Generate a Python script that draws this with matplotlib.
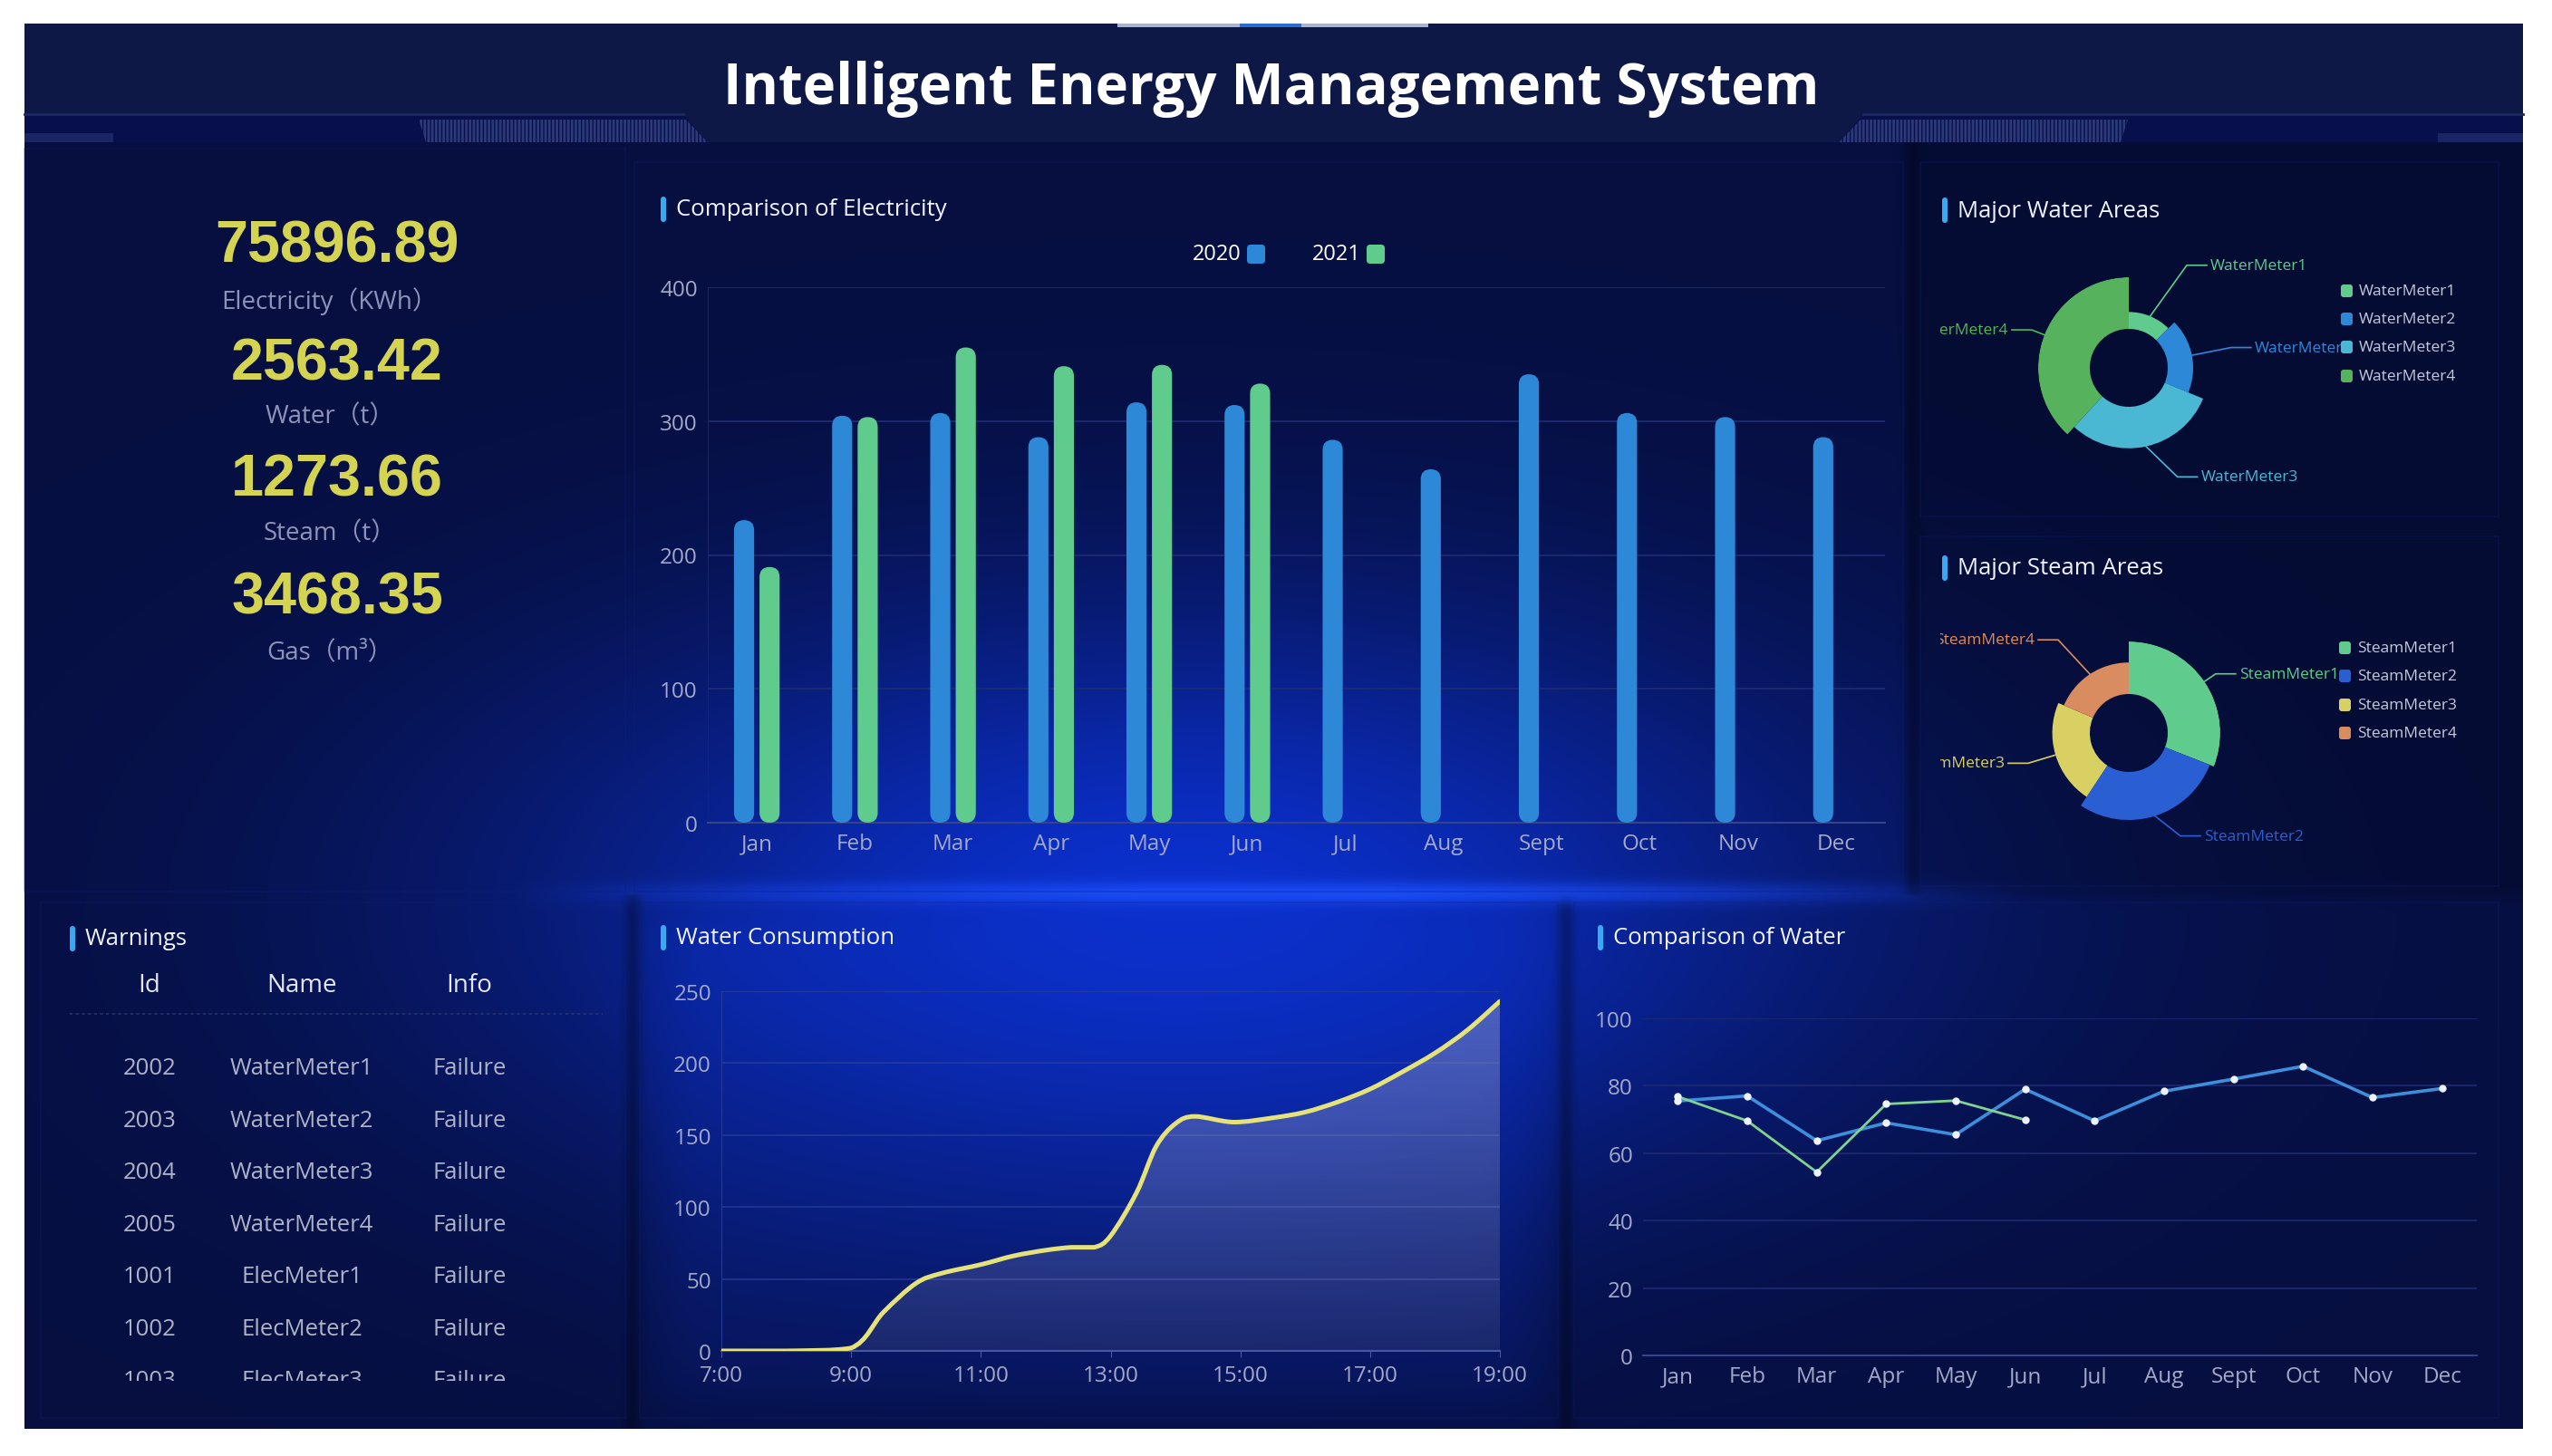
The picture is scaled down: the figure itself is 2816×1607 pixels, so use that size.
import numpy as np
import matplotlib
matplotlib.use('Agg')
import matplotlib.pyplot as plt
from matplotlib.patches import FancyBboxPatch, Rectangle, Polygon, PathPatch
from matplotlib.path import Path

plt.rcParams['font.family'] = ['Open Sans', 'Noto Sans CJK SC', 'DejaVu Sans']
plt.rcParams['hatch.linewidth'] = 2.0

# ---------------- data ----------------
months = ['Jan', 'Feb', 'Mar', 'Apr', 'May', 'Jun', 'Jul', 'Aug', 'Sept', 'Oct', 'Nov', 'Dec']
elec_2020 = [226, 304, 306, 288, 314, 312, 286, 264, 335, 306, 303, 288]
elec_2021 = [191, 303, 355, 341, 342, 328]

kpi_values = ['75896.89', '2563.42', '1273.66', '3468.35']
kpi_labels = ['Electricity（KWh）', 'Water（t）', 'Steam（t）', 'Gas（m³）']

water_meters = ['WaterMeter1', 'WaterMeter2', 'WaterMeter3', 'WaterMeter4']
water_share = [20, 30, 49, 61]
steam_meters = ['SteamMeter1', 'SteamMeter2', 'SteamMeter3', 'SteamMeter4']
steam_share = [35, 32, 25, 21]

warn_ids = ['2002', '2003', '2004', '2005', '1001', '1002', '1003']
warn_names = ['WaterMeter1', 'WaterMeter2', 'WaterMeter3', 'WaterMeter4',
              'ElecMeter1', 'ElecMeter2', 'ElecMeter3']
warn_info = ['Failure'] * 7

hours = [7.0, 8.0, 9.0, 9.5, 10.0, 10.4, 11.0, 11.5, 12.0, 12.4, 12.75, 13.0,
         13.4, 13.7, 14.0, 14.3, 14.9, 15.5, 16.0, 16.5, 17.0, 17.5, 18.0, 18.5, 19.0]
consumption = [0, 0, 2, 27, 47, 54, 60, 66, 70, 72, 72, 80,
               110, 142, 158, 163, 159, 162, 166, 173, 182, 194, 207, 223, 243]
hour_ticks = [7, 9, 11, 13, 15, 17, 19]
hour_labels = ['7:00', '9:00', '11:00', '13:00', '15:00', '17:00', '19:00']

water_2020 = [75.5, 77, 63.7, 69, 65.5, 79, 69.6, 78.4, 82, 85.8, 76.5, 79.2]
water_2021 = [76.8, 69.6, 54.4, 74.6, 75.6, 69.9]

# ---------------- colours ----------------
BLUE = '#2e88d8'
GREEN = '#5fcb8c'
water_colors = ['#5fcb8c', '#2e88d8', '#4bb8d3', '#56b25c']
steam_colors = ['#5fcb8c', '#2a5fd4', '#d8d062', '#d98c5f']
TICK = '#a3a9c9'
GRID = '#1e2b72'

W, H = 2816, 1608
fig = plt.figure(figsize=(W / 100, H / 100), dpi=100, facecolor='white')


def rect(x0, y0, x1, y1):
    # pixel box (top-left origin) -> figure fraction
    return [x0 / W, 1 - y1 / H, (x1 - x0) / W, (y1 - y0) / H]


def sig(v):
    return 1 / (1 + np.exp(-v))


# background axes in pixel coordinates
bg = fig.add_axes([0, 0, 1, 1])
bg.set_xlim(0, W)
bg.set_ylim(H, 0)
bg.axis('off')

Hs, Ws = 400, 700
yy, xx = np.mgrid[0:Hs, 0:Ws]
py = 27 + (yy + 0.5) * (1578 - 27) / Hs
px = 27 + (xx + 0.5) * (2784 - 27) / Ws
base = np.array([6, 15, 64]) / 255
glow = np.array([11, 48, 205]) / 255
g = np.exp(-((px - 1300) / 720) ** 2 - ((py - 1000) / 330) ** 2)
img = base + (glow - base) * g[..., None]
# water consumption panel: a bit brighter, soft edges
box = sig((px - 725) / 18) * sig((1700 - px) / 18) * sig((py - 1003) / 15) * sig((1560 - py) / 15)
t = np.clip((py - 997) / 569, 0, 1)
wgt = 0.45 * box * (1 - 0.7 * t)
img = img + (np.array([12, 48, 200]) / 255 - img) * wgt[..., None]
# darker gaps between panels
gap = np.zeros_like(px)
for gx in (698, 1728):
    gap += np.exp(-((px - gx) / 9) ** 2) * (py > 990)
gap += np.exp(-((px - 2110) / 9) ** 2) * (py < 990)
img *= (1 - 0.3 * np.clip(gap, 0, 1))[..., None]
band = np.exp(-((py - 987) / 12) ** 2) * np.clip(1.2 - np.abs(px - 1400) / 700, 0, 1)
band_col = np.array([25, 75, 245]) / 255
img = img + (band_col - img) * np.clip(band, 0, 1)[..., None]
right = sig((px - 2112) / 4) * sig((990 - py) / 4)
img *= (1 - 0.2 * right)[..., None]
bg.imshow(np.clip(img, 0, 1), extent=(27, 2784, 1578, 27), aspect='auto',
          interpolation='bilinear', zorder=0)

# panels
for x0, y0, x1, y1 in [(27, 165, 690, 985), (700, 180, 2100, 985),
                       (2119, 180, 2757, 571), (2119, 593, 2757, 979),
                       (45, 997, 690, 1566), (706, 997, 1719, 1566),
                       (1737, 997, 2757, 1566)]:
    bg.add_patch(Rectangle((x0, y0), x1 - x0, y1 - y0, fc='none', ec='#0f1f78',
                           lw=1.2, alpha=0.3, zorder=1))

# header
bg.add_patch(Rectangle((27, 27), 2757, 100, fc='#0e1846', ec='none', zorder=2))
bg.add_patch(Rectangle((27, 127), 2757, 31, fc='#07104a', ec='none', zorder=2))
bg.add_patch(Polygon([(754, 127), (2056, 127), (2029, 158), (781, 158)],
                     fc='#0e1846', ec='none', zorder=3))
bg.plot([27, 754], [127, 127], color='#1d2962', lw=2, zorder=3)
bg.plot([2056, 2784], [127, 127], color='#1d2962', lw=2, zorder=3)
bg.add_patch(Polygon([(462, 133), (757, 133), (781, 158), (470, 158)],
                     fc='none', ec='#2c3a78', hatch='||||', lw=0, zorder=3))
bg.add_patch(Polygon([(2053, 133), (2348, 133), (2340, 158), (2029, 158)],
                     fc='none', ec='#2c3a78', hatch='||||', lw=0, zorder=3))
bg.add_patch(Rectangle((27, 148), 98, 10, fc='#1a2663', ec='none', zorder=3))
bg.add_patch(Rectangle((2690, 148), 94, 10, fc='#1a2663', ec='none', zorder=3))
bg.add_patch(Rectangle((1233, 27), 343, 4, fc='#aab3cc', ec='none', zorder=3))
bg.add_patch(Rectangle((1368, 27), 68, 4, fc='#2a6fd0', ec='none', zorder=4))
bg.text(1403, 99, 'Intelligent Energy Management System', color='white',
        fontsize=44.5, fontweight='bold', ha='center', va='center', zorder=5)


def panel_title(x, y, text):
    bg.add_patch(FancyBboxPatch((x, y - 14), 6, 28, boxstyle='round,pad=0,rounding_size=3',
                                fc='#3ba8f2', ec='none', zorder=5))
    bg.text(x + 17, y, text, color='#f0f3ff', fontsize=18.5, ha='left', va='center', zorder=5)


panel_title(729, 232, 'Comparison of Electricity')
panel_title(2143, 233, 'Major Water Areas')
panel_title(2143, 628, 'Major Steam Areas')
panel_title(77, 1037, 'Warnings')
panel_title(729, 1036, 'Water Consumption')
panel_title(1763, 1036, 'Comparison of Water')

# ---------------- KPI block ----------------
num_y = [273, 403, 531, 661]
lab_y = [333, 460, 589, 720]
for v, lab, ny, ly in zip(kpi_values, kpi_labels, num_y, lab_y):
    bg.text(372, ny, v, color='#d4d452', fontsize=46.5, fontweight='bold',
            family='Liberation Sans', ha='center', va='center', zorder=5)
    bg.text(364, ly, lab, color='#8e93b8', fontsize=20, ha='center', va='center', zorder=5)

# ---------------- electricity bars ----------------
ax = fig.add_axes(rect(781, 318, 2080, 909))
ax.set_facecolor('none')
ax.set_xlim(-0.5, 11.5)
ax.set_ylim(0, 400)
bw, off = 0.205, 0.13
asp = (400 / 591) / (12 / 1299)


def round_bars(xs, vals, color):
    for xi, v in zip(xs, vals):
        ax.add_patch(FancyBboxPatch((xi - bw / 2, 0), bw, v,
                                    boxstyle=f'round,pad=0,rounding_size={bw / 2}',
                                    mutation_aspect=asp, fc=color, ec='none', zorder=3))


round_bars(np.arange(len(elec_2020)) - off, elec_2020, BLUE)
round_bars(np.arange(len(elec_2021)) + off, elec_2021, GREEN)
ax.set_xticks(np.arange(len(months)), months)
ax.set_yticks([0, 100, 200, 300, 400])
ax.grid(axis='y', color=GRID, lw=1.3)
ax.set_axisbelow(True)
for s in ['top', 'right']:
    ax.spines[s].set_visible(False)
ax.spines['bottom'].set_color('#34438a')
ax.spines['bottom'].set_linewidth(1.5)
ax.spines['left'].set_color('#1a2566')
ax.tick_params(colors=TICK, labelsize=17.5, length=0, pad=8)

# legend
for label, color, tx in [('2020', BLUE, 1370), ('2021', GREEN, 1502)]:
    bg.text(tx, 281, label, color='white', fontsize=17, ha='right', va='center', zorder=5)
    bg.add_patch(FancyBboxPatch((tx + 6, 271), 20, 21, boxstyle='round,pad=0,rounding_size=4',
                                fc=color, ec='none', zorder=5))

# ---------------- rose pies ----------------
lab = fig.add_axes(rect(2141, 180, 2757, 985))
lab.set_xlim(2141, 2757)
lab.set_ylim(985, 180)
lab.axis('off')


def rose(cx, cy, vals, names, colors, r0, R, nudges, legend_y, legend_x):
    pax = fig.add_axes(rect(cx - R, cy - R, cx + R, cy + R), projection='polar')
    pax.set_theta_zero_location('N')
    pax.set_theta_direction(-1)
    vals = np.array(vals, dtype=float)
    spans = 2 * np.pi * vals / vals.sum()
    starts = np.concatenate([[0], np.cumsum(spans)[:-1]])
    radii = r0 + (R - r0) * vals / vals.max()
    pax.bar(starts, radii - r0, width=spans, bottom=r0, align='edge',
            color=colors, edgecolor='none')
    pax.set_ylim(0, R)
    pax.set_axis_off()
    for st, sp, r, name, c, (nx, ny) in zip(starts, spans, radii, names, colors, nudges):
        m = st + sp / 2
        sx, sy = cx + r * np.sin(m), cy - r * np.cos(m)
        ex = cx + (R + 15) * np.sin(m) + nx
        ey = cy - (R + 15) * np.cos(m) + ny
        sign = 1 if np.sin(m) >= 0 else -1
        hx = ex + sign * 22
        lab.plot([sx, ex, hx], [sy, ey, ey], color=c, lw=1.2, zorder=2)
        lab.text(hx + sign * 4, ey, name, color=c, fontsize=12.5, va='center',
                 ha='left' if sign > 0 else 'right', clip_on=True, zorder=2)
    for name, c, ly in zip(names, colors, legend_y):
        lab.add_patch(FancyBboxPatch((legend_x, ly - 7), 13, 14,
                                     boxstyle='round,pad=0,rounding_size=3',
                                     fc=c, ec='none', zorder=4))
        lab.text(legend_x + 20, ly, name, color='#c5c9dc', fontsize=12.5,
                 va='center', ha='left', zorder=4)


rose(2349, 407, water_share, water_meters, water_colors, 43, 100,
     [(20, -7), (0, 0), (29, 8), (0, 0)], [322, 353, 384, 416], 2583)
rose(2349, 810, steam_share, steam_meters, steam_colors, 43, 101,
     [(0, 0), (22, 3), (0, 0), (-14, -6)], [716, 747, 779, 810], 2581)

# ---------------- warnings table ----------------
tab = fig.add_axes(rect(45, 1060, 690, 1525))
tab.set_xlim(45, 690)
tab.set_ylim(1525, 1060)
tab.axis('off')
col_x = [165, 333, 518]
for cx_, head in zip(col_x, ['Id', 'Name', 'Info']):
    tab.text(cx_, 1088, head, color='#e4e7f3', fontsize=20, ha='center', va='center')
tab.plot([77, 665], [1120, 1120], color='#26346e', lw=1.2, ls=(0, (2, 2)))
for i, (a, b, c) in enumerate(zip(warn_ids, warn_names, warn_info)):
    y = 1180 + i * 57.5
    for cx_, t_ in zip(col_x, (a, b, c)):
        tab.text(cx_, y, t_, color='#aeb3c8', fontsize=18.5, ha='center', va='center', clip_on=True)

# ---------------- water consumption ----------------
wax = fig.add_axes(rect(796, 1095, 1655, 1492))
wax.set_facecolor('none')
wax.set_xlim(7, 19)
wax.set_ylim(0, 250)


def smooth_path(xs, ys):
    verts = [(xs[0], ys[0])]
    codes = [Path.MOVETO]
    n = len(xs)
    for i in range(n - 1):
        x0, y0 = xs[max(i - 1, 0)], ys[max(i - 1, 0)]
        x1, y1 = xs[i], ys[i]
        x2, y2 = xs[i + 1], ys[i + 1]
        x3, y3 = xs[min(i + 2, n - 1)], ys[min(i + 2, n - 1)]
        lo, hi = min(y1, y2), max(y1, y2)
        c1 = (x1 + (x2 - x0) / 6, np.clip(y1 + (y2 - y0) / 6, lo, hi))
        c2 = (x2 - (x3 - x1) / 6, np.clip(y2 - (y3 - y1) / 6, lo, hi))
        verts += [c1, c2, (x2, y2)]
        codes += [Path.CURVE4] * 3
    return verts, codes


verts, codes = smooth_path(hours, consumption)
area = Path(verts + [(hours[-1], 0), (hours[0], 0), (hours[0], 0)],
            codes + [Path.LINETO, Path.LINETO, Path.CLOSEPOLY])
area_patch = PathPatch(area, fc='none', ec='none')
wax.add_patch(area_patch)
grad = np.zeros((256, 2, 4))
grad[..., :3] = [0.78, 0.78, 0.84]
grad[..., 3] = np.linspace(0.10, 0.36, 256)[:, None]
im = wax.imshow(grad, extent=(7, 19, 0, 250), origin='lower', aspect='auto', zorder=2)
im.set_clip_path(area_patch)
wax.add_patch(PathPatch(Path(verts, codes), fc='none', ec='#e5e27a', lw=3.6,
                        capstyle='round', zorder=3))
wax.set_xticks(hour_ticks, hour_labels)
wax.set_yticks([0, 50, 100, 150, 200, 250])
wax.grid(axis='y', color='#2a3f9a', lw=1.2, alpha=0.8)
wax.set_axisbelow(True)
for s in ['top', 'right']:
    wax.spines[s].set_visible(False)
wax.spines['bottom'].set_color('#4657a6')
wax.spines['bottom'].set_linewidth(1.5)
wax.spines['left'].set_color('#243a96')
wax.tick_params(axis='x', colors=TICK, labelsize=17.5, length=5, color='#4657a6', pad=6)
wax.tick_params(axis='y', colors=TICK, labelsize=17.5, length=0, pad=8)

# ---------------- comparison of water ----------------
cax = fig.add_axes(rect(1813, 1125, 2733, 1497))
cax.set_facecolor('none')
cax.set_xlim(-0.5, 11.5)
cax.set_ylim(0, 100)
cax.plot(np.arange(len(water_2020)), water_2020, color='#3d8fdc', lw=2.6,
         marker='o', ms=5, mfc='#eef4ff', mec='#eef4ff', zorder=3)
cax.plot(np.arange(len(water_2021)), water_2021, color='#7fd48f', lw=2.0,
         marker='o', ms=5, mfc='#eef4ff', mec='#eef4ff', zorder=4)
cax.set_xticks(np.arange(len(months)), months)
cax.set_yticks([0, 20, 40, 60, 80, 100])
cax.grid(axis='y', color=GRID, lw=1.2)
cax.set_axisbelow(True)
for s in ['top', 'right', 'left']:
    cax.spines[s].set_visible(False)
cax.spines['bottom'].set_color('#34438a')
cax.spines['bottom'].set_linewidth(1.5)
cax.tick_params(colors=TICK, labelsize=17.5, length=0, pad=8)

fig.savefig('out.png', dpi=100, facecolor='white')
